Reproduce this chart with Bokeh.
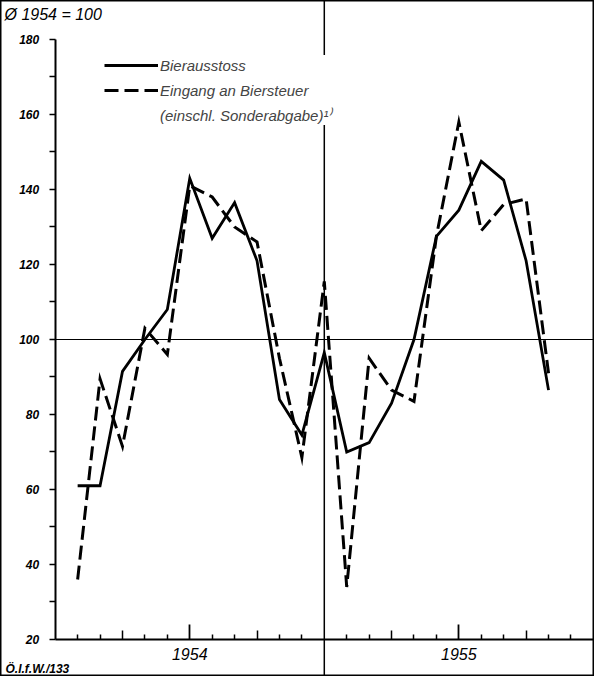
from bokeh.plotting import figure
from bokeh.models import Range1d, FixedTicker, LinearAxis, Span, Legend, LegendItem, Label
from bokeh.embed import file_html
from bokeh.resources import INLINE

# ---- data -------------------------------------------------------------
months = ["Jan 54", "Feb 54", "Mär 54", "Apr 54", "Mai 54", "Jun 54",
          "Jul 54", "Aug 54", "Sep 54", "Okt 54", "Nov 54", "Dez 54",
          "Jan 55", "Feb 55", "Mär 55", "Apr 55", "Mai 55", "Jun 55",
          "Jul 55", "Aug 55", "Sep 55", "Okt 55"]
month_pos = list(range(1, len(months) + 1))   # month-end position on the time axis

bierausstoss = [61, 61, 91.5, 100, 108, 143, 127, 136.5, 121, 84, 74.5, 96.5,
                70, 72.5, 83, 100, 127.5, 134.5, 147.5, 142.5, 121, 86.5]
biersteuer = [36, 89.5, 71.5, 103, 96, 141, 138, 130, 126, 95, 68.5, 115.5,
              34, 95, 86.5, 83.5, 127.5, 158, 129, 136, 137.5, 91]

y_major_ticks = [20, 40, 60, 80, 100, 120, 140, 160, 180]
y_minor_ticks = [30, 50, 70, 90, 110, 130, 150, 170]
year_ticks = [6, 18]
year_labels = ["1954", "1955"]
quarter_ticks = [3, 9, 15, 21]
month_ticks = [1, 2, 4, 5, 7, 8, 10, 11, 13, 14, 16, 17, 19, 20, 22, 23]
year_break = 12
base_value = 100

FONT = "Liberation Sans"

# ---- figure -----------------------------------------------------------
p = figure(width=594, height=676,
           x_range=Range1d(-2.44, 24.05), y_range=Range1d(10.13, 190.4),
           x_axis_type=None, y_axis_type=None,
           output_backend="svg", toolbar_location=None,
           min_border=0, min_border_left=0, min_border_right=0,
           min_border_top=0, min_border_bottom=0)
p.outline_line_color = "black"
p.outline_line_width = 2
p.background_fill_color = "white"
p.border_fill_color = "white"

# reference lines
vline = Span(location=year_break, dimension="height", line_color="black",
             line_width=1.5, level="underlay")
p.add_layout(vline)
p.ray(x=[0], y=[base_value], length=0, angle=0, line_color="black", line_width=1.2)

# data lines
r_solid = p.line(month_pos, bierausstoss, line_color="black", line_width=2.8,
                 line_join="miter")
r_dash = p.line(month_pos, biersteuer, line_color="black", line_width=3,
                line_dash="14 6", line_join="miter")
r_blank = p.line([], [], line_alpha=0)

# axes
yaxis = LinearAxis(fixed_location=0, bounds=(20, 180),
                   ticker=FixedTicker(ticks=y_major_ticks, minor_ticks=y_minor_ticks),
                   axis_line_width=2, axis_line_color="black",
                   major_tick_in=0, major_tick_out=6, major_tick_line_width=1.5,
                   minor_tick_in=0, minor_tick_out=6, minor_tick_line_width=1.5,
                   major_label_standoff=10,
                   major_label_text_font=FONT,
                   major_label_text_font_size="12px",
                   major_label_text_font_style="bold italic",
                   major_label_text_color="black")
p.add_layout(yaxis, "left")

xaxis = LinearAxis(fixed_location=20, bounds=(0, 24),
                   ticker=FixedTicker(ticks=year_ticks, minor_ticks=month_ticks),
                   major_label_overrides={t: l for t, l in zip(year_ticks, year_labels)},
                   axis_line_width=2, axis_line_color="black",
                   major_tick_in=15, major_tick_out=0, major_tick_line_width=1.8,
                   minor_tick_in=5, minor_tick_out=0, minor_tick_line_width=1.5,
                   major_label_standoff=9,
                   major_label_text_font=FONT,
                   major_label_text_font_size="16px",
                   major_label_text_font_style="italic",
                   major_label_text_color="black")
p.add_layout(xaxis, "below")

qaxis = LinearAxis(fixed_location=20, bounds=(0, 24),
                   ticker=FixedTicker(ticks=quarter_ticks, minor_ticks=[]),
                   axis_line_color=None,
                   major_tick_in=9, major_tick_out=0, major_tick_line_width=1.5,
                   minor_tick_line_color=None,
                   major_label_text_alpha=0, major_label_text_font_size="1px")
p.add_layout(qaxis, "below")

# legend
legend = Legend(items=[LegendItem(label="Bierausstoss", renderers=[r_solid]),
                       LegendItem(label="Eingang an Biersteuer", renderers=[r_dash]),
                       LegendItem(label="(einschl. Sonderabgabe)¹⁾", renderers=[r_blank])],
                location=(104, 551),
                background_fill_color="white", background_fill_alpha=1,
                border_line_color=None,
                label_text_font=FONT, label_text_font_size="15px",
                label_text_font_style="italic",
                glyph_width=54, glyph_height=20, label_standoff=2,
                spacing=5, padding=4, margin=0)
p.add_layout(legend, "center")

# texts
p.add_layout(Label(x=4, y=654, x_units="screen", y_units="screen",
                   text="Ø 1954 = 100", text_font=FONT, text_font_size="16px",
                   text_font_style="italic", text_color="black"))
p.add_layout(Label(x=5, y=1, x_units="screen", y_units="screen",
                   text="Ö.I.f.W./133", text_font=FONT, text_font_size="12px",
                   text_font_style="bold italic", text_color="black"))

open("out.html", "w").write(file_html(p, INLINE))
